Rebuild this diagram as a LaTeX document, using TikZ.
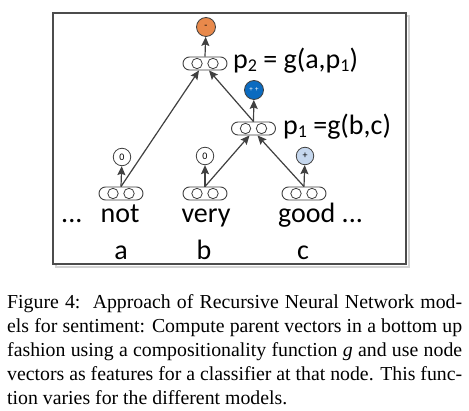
\documentclass[tikz,border=0pt]{standalone}
\usepackage{fontspec}
\setmainfont{Liberation Serif}
\newfontfamily\carl{Carlito}
\usetikzlibrary{shapes.misc,arrows.meta}
\definecolor{orng}{HTML}{E8894B}
\definecolor{blu}{HTML}{0B6BC0}
\definecolor{lblu}{HTML}{C5D7EE}
\definecolor{edg}{HTML}{404040}
\newcommand{\subsc}[1]{\raisebox{-3pt}{\fontsize{18}{18}\selectfont #1}}
\tikzset{
  vecbox/.style={draw=edg, line width=0.9pt, rounded rectangle, fill=white,
    minimum width=44pt, minimum height=13pt, inner sep=0pt,
    path picture={\draw[edg, line width=0.8pt]
      ([xshift=-8pt]path picture bounding box.center) circle (5.2pt)
      ([xshift=8pt]path picture bounding box.center) circle (5.2pt);}},
  senti/.style={circle, draw=edg, line width=0.8pt, minimum size=#1, inner sep=0pt,
    font=\carl\fontsize{10}{10}\selectfont},
  senti/.default=17.5pt,
  arr/.style={edg, line width=1.2pt, -{Stealth[length=9pt,width=8pt,inset=1.5pt]}},
  word/.style={font=\carl\fontsize{28}{28}\selectfont, inner sep=0pt},
}
\begin{document}
\begin{tikzpicture}[x=1pt,y=-1pt]
\useasboundingbox (0,0) rectangle (469,411);
% frame with shadow
\draw[gray!35, line width=2pt] (56,16) rectangle (409,267);
\draw[fill=white, draw=gray!60!black, line width=1.4pt] (53,13) rectangle (406,264);
% vectors
\node[vecbox] (p2) at (205,63.5) {};
\node[vecbox] (p1) at (253.5,128.5) {};
\node[vecbox] (va) at (121,193.5) {};
\node[vecbox] (vb) at (205,193.5) {};
\node[vecbox] (vc) at (304,193.5) {};
% sentiment circles
\node[senti=19pt, fill=orng] (s2) at (206,27) {-};
\node[senti=19pt, fill=blu, text=white, font=\carl\fontsize{7}{7}\selectfont] (s1) at (254,90) {+\,\,+};
\node[senti, fill=white] (sa) at (122,157) {0};
\node[senti, fill=white] (sb) at (205,156) {0};
\node[senti, fill=lblu] (sc) at (305,156) {+};
% labels
\node[word, anchor=base west] (l2) at (233,69) {p\subsc{2} = g(a,p\subsc{1})};
\node[word, anchor=base west] (l1) at (283,135) {p\subsc{1} =g(b,c)};
\node[word, anchor=base west] (dots) at (61,223) {...};
\node[word, anchor=base] (wa) at (120,223) {not};
\node[word, anchor=base] (wb) at (206,223) {very};
\node[word, anchor=base west] (wc) at (278,223) {good ...};
\node[word, anchor=base] (la) at (121,260) {a};
\node[word, anchor=base] (lb) at (204,260) {b};
\node[word, anchor=base] (lc) at (303,260) {c};
% connectors
\draw[arr] (va.north) -- (sa);
\draw[arr] (vb.north) -- (sb);
\draw[arr] (vc.north) -- (sc);
\draw[arr] (va.north) -- ([xshift=-6pt]p2.south);
\draw[arr] (p1.north) -- ([xshift=4pt]p2.south);
\draw[arr] (p1.north) -- (s1);
\draw[arr] (vb.north) -- ([xshift=-4pt]p1.south);
\draw[arr] (vc.north) -- ([xshift=4pt]p1.south);
\draw[arr] (p2.north) -- (s2);
% caption
\node[anchor=base west, inner sep=0pt, text width=455pt, align=justify,
  font=\fontsize{19.8}{24}\selectfont] (cap) at (7,309)
  {Figure 4:\ \ Approach of Recursive Neural Network mod-\linebreak
   els for sentiment: Compute parent vectors in a bottom up\linebreak
   fashion using a compositionality function \textit{g} and use node\linebreak
   vectors as features for a classifier at that node. This func-\linebreak
   tion varies for the different models.};
\end{tikzpicture}
\end{document}
